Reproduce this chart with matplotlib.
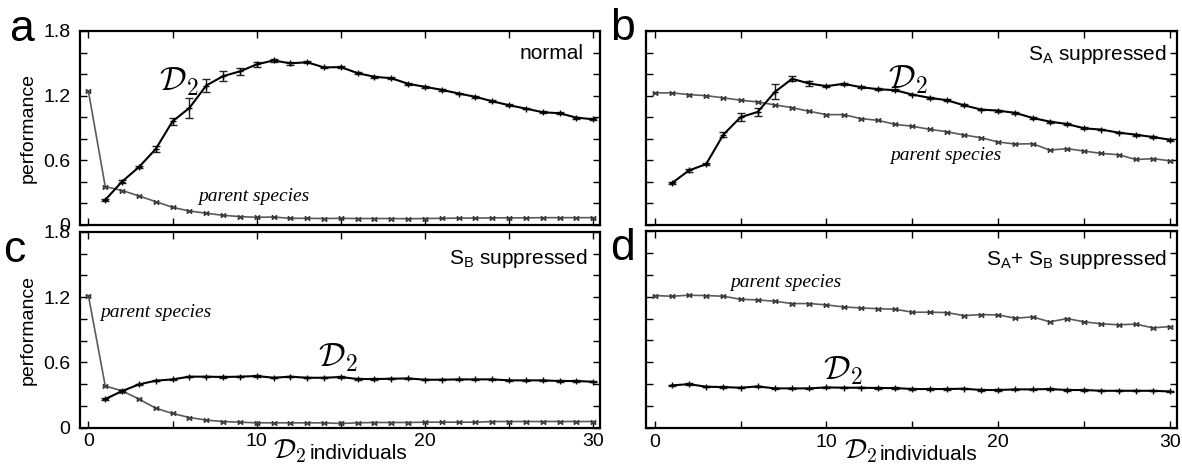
import matplotlib
matplotlib.use("Agg")
import matplotlib.pyplot as plt
from matplotlib.path import Path
from matplotlib.ticker import MultipleLocator, FixedLocator, NullFormatter

plt.rcParams['font.family'] = ['Liberation Sans', 'DejaVu Sans']
plt.rcParams['mathtext.fontset'] = 'custom'
plt.rcParams['mathtext.rm'] = 'Liberation Sans'
plt.rcParams['mathtext.it'] = 'Liberation Sans:italic'

# ---- data -------------------------------------------------------------
x_d2 = list(range(1, 31))
x_parent = list(range(0, 31))

# (a) normal
a_d2 = [0.233, 0.403, 0.537, 0.705, 0.962, 1.086, 1.294, 1.381, 1.425, 1.490,
        1.527, 1.500, 1.510, 1.462, 1.465, 1.409, 1.375, 1.362, 1.310, 1.282,
        1.254, 1.220, 1.189, 1.148, 1.111, 1.080, 1.046, 1.037, 0.996, 0.981]
a_d2_err = [0.008, 0.010, 0.010, 0.025, 0.035, 0.090, 0.060, 0.045, 0.030, 0.025,
            0.012, 0.012, 0.010, 0.008, 0.008, 0.008, 0.008, 0.008, 0.008, 0.008,
            0.008, 0.008, 0.008, 0.008, 0.008, 0.008, 0.008, 0.008, 0.008, 0.008]
a_parent = [1.241, 0.357, 0.320, 0.270, 0.217, 0.164, 0.130, 0.109, 0.090, 0.078,
            0.071, 0.074, 0.062, 0.062, 0.060, 0.062, 0.060, 0.060, 0.060, 0.058,
            0.060, 0.062, 0.064, 0.064, 0.066, 0.066, 0.066, 0.068, 0.068, 0.068,
            0.068]

# (b) S_A suppressed
b_d2 = [0.388, 0.506, 0.565, 0.838, 1.000, 1.049, 1.235, 1.356, 1.313, 1.288,
        1.310, 1.279, 1.260, 1.251, 1.210, 1.180, 1.158, 1.111, 1.071, 1.061,
        1.040, 0.993, 0.959, 0.937, 0.897, 0.885, 0.857, 0.838, 0.816, 0.791]
b_d2_err = [0.008, 0.010, 0.010, 0.025, 0.035, 0.035, 0.070, 0.022, 0.020, 0.012,
            0.010, 0.008, 0.008, 0.008, 0.008, 0.008, 0.008, 0.008, 0.008, 0.008,
            0.008, 0.008, 0.008, 0.008, 0.008, 0.008, 0.008, 0.008, 0.008, 0.008]
b_parent = [1.226, 1.226, 1.210, 1.200, 1.180, 1.158, 1.142, 1.114, 1.089, 1.055,
            1.024, 1.024, 0.987, 0.971, 0.934, 0.916, 0.888, 0.866, 0.835, 0.810,
            0.770, 0.751, 0.754, 0.695, 0.708, 0.686, 0.664, 0.652, 0.608, 0.615,
            0.596]

# (c) S_B suppressed
c_d2 = [0.262, 0.335, 0.397, 0.431, 0.443, 0.468, 0.468, 0.465, 0.468, 0.474,
        0.458, 0.468, 0.458, 0.458, 0.465, 0.446, 0.446, 0.449, 0.452, 0.440,
        0.440, 0.443, 0.443, 0.443, 0.434, 0.434, 0.434, 0.428, 0.428, 0.421]
c_d2_err = [0.006, 0.006, 0.006, 0.006, 0.006, 0.006, 0.006, 0.006, 0.006, 0.006,
            0.006, 0.006, 0.006, 0.006, 0.006, 0.006, 0.006, 0.006, 0.006, 0.006,
            0.006, 0.006, 0.006, 0.006, 0.006, 0.006, 0.006, 0.006, 0.006, 0.006]
c_parent = [1.215, 0.382, 0.338, 0.262, 0.178, 0.129, 0.092, 0.068, 0.055, 0.049,
            0.043, 0.043, 0.043, 0.043, 0.043, 0.037, 0.043, 0.046, 0.046, 0.046,
            0.049, 0.049, 0.049, 0.049, 0.055, 0.055, 0.055, 0.055, 0.055, 0.055,
            0.055]

# (d) S_A + S_B suppressed
d_d2 = [0.389, 0.401, 0.377, 0.374, 0.368, 0.380, 0.362, 0.362, 0.362, 0.371,
        0.368, 0.368, 0.365, 0.365, 0.356, 0.356, 0.356, 0.359, 0.347, 0.347,
        0.353, 0.353, 0.356, 0.347, 0.347, 0.340, 0.340, 0.340, 0.340, 0.334]
d_d2_err = [0.006, 0.006, 0.006, 0.006, 0.006, 0.006, 0.006, 0.006, 0.006, 0.006,
            0.006, 0.006, 0.006, 0.006, 0.006, 0.006, 0.006, 0.006, 0.006, 0.006,
            0.006, 0.006, 0.006, 0.006, 0.006, 0.006, 0.006, 0.006, 0.006, 0.006]
d_parent = [1.210, 1.204, 1.213, 1.210, 1.204, 1.176, 1.170, 1.158, 1.137, 1.137,
            1.125, 1.106, 1.097, 1.090, 1.085, 1.058, 1.058, 1.055, 1.027, 1.036,
            1.033, 1.003, 1.015, 0.970, 1.000, 0.970, 0.952, 0.943, 0.949, 0.915,
            0.927]

y_major = [0, 0.6, 1.2, 1.8]
y_major_labels = ['0', '0.6', '1.2', '1.8']
x_major = [0, 10, 20, 30]
x_major_labels = ['0', '10', '20', '30']

# ---- figure -----------------------------------------------------------
W, H = 1182, 472
fig = plt.figure(figsize=(W / 100, H / 100), dpi=100)


def add_axes_px(left, top, right, bottom):
    return fig.add_axes([left / W, 1 - bottom / H, (right - left) / W,
                         (bottom - top) / H])


# bow-tie marker for the parent-species curve
bowtie = Path([(-1, -1), (1, 1), (-1, 1), (1, -1),
               (-1, -1), (-1, 1), (1, -1), (1, 1)],
              [Path.MOVETO, Path.LINETO, Path.MOVETO, Path.LINETO,
               Path.MOVETO, Path.LINETO, Path.MOVETO, Path.LINETO])


def style_axes(ax, show_x, show_y):
    ax.set_xlim(-0.5, 30.4)
    ax.set_ylim(0, 1.8)
    ax.xaxis.set_major_locator(FixedLocator(x_major))
    ax.xaxis.set_minor_locator(FixedLocator([5, 15, 25]))
    ax.yaxis.set_major_locator(FixedLocator(y_major))
    ax.yaxis.set_minor_locator(MultipleLocator(0.2))
    ax.tick_params(which='both', direction='in', top=True, right=True,
                   length=5, width=1, labelsize=14)
    ax.tick_params(axis='x', pad=4)
    ax.tick_params(axis='y', pad=7)
    if show_x:
        ax.set_xticklabels(x_major_labels)
    else:
        ax.xaxis.set_major_formatter(NullFormatter())
    if show_y:
        ax.set_yticklabels(y_major_labels)
        ax.set_ylabel('performance', fontsize=14, labelpad=5)
    else:
        ax.yaxis.set_major_formatter(NullFormatter())
    for s in ax.spines.values():
        s.set_linewidth(1.6)


def draw(ax, d2, d2_err, parent):
    ax.plot(x_parent, parent, color='#5a5a5a', lw=1.2, marker=bowtie,
            markersize=3.2, markeredgewidth=0.9, markeredgecolor='#3a3a3a',
            zorder=2)
    ax.errorbar(x_d2, d2, yerr=d2_err, color='black', lw=1.5, marker='+',
                markersize=5, markeredgewidth=1.0, ecolor='#222222',
                elinewidth=1.0, capsize=3, capthick=1.0, zorder=3)


def d2_label(ax, x, y, size=24):
    ax.text(x, y, r'$\mathcal{D}_2$', fontsize=size, math_fontfamily='cm',
            ha='left', va='center')


def parent_label(ax, x, y):
    ax.text(x, y, 'parent species', fontsize=14, family='Liberation Serif',
            style='italic', ha='left', va='center')


def xlabel(ax):
    # calligraphic symbol set just after the "10" tick label, then the word
    sym = ax.text(0.372, -0.155, r'$\mathcal{D}_2$', fontsize=20,
                  math_fontfamily='cm', transform=ax.transAxes, ha='left',
                  va='baseline')
    ax.annotate('individuals', xy=(1.0, 0.0), xycoords=sym,
                xytext=(2, 4), textcoords='offset points', fontsize=15,
                ha='left', va='baseline')


ax_a = add_axes_px(80, 31, 600, 225)
ax_b = add_axes_px(646, 31, 1177, 225)
ax_c = add_axes_px(80, 232, 600, 427.5)
ax_d = add_axes_px(646, 231, 1177, 428)

style_axes(ax_a, False, True)
style_axes(ax_b, False, False)
style_axes(ax_c, True, True)
style_axes(ax_d, True, False)

draw(ax_a, a_d2, a_d2_err, a_parent)
draw(ax_b, b_d2, b_d2_err, b_parent)
draw(ax_c, c_d2, c_d2_err, c_parent)
draw(ax_d, d_d2, d_d2_err, d_parent)

d2_label(ax_a, 4.2, 1.33)
parent_label(ax_a, 6.5, 0.265)
ax_a.text(0.969, 0.883, 'normal', fontsize=15, transform=ax_a.transAxes,
          ha='right', va='center')

d2_label(ax_b, 13.6, 1.35)
parent_label(ax_b, 13.7, 0.645)
ax_b.text(0.981, 0.88, r'S$_{\mathrm{A}}$ suppressed', fontsize=15,
          transform=ax_b.transAxes, ha='right', va='center')

d2_label(ax_c, 13.65, 0.645)
parent_label(ax_c, 0.7, 1.06)
ax_c.text(0.977, 0.867, r'S$_{\mathrm{B}}$ suppressed', fontsize=15,
          transform=ax_c.transAxes, ha='right', va='center')
xlabel(ax_c)

d2_label(ax_d, 9.8, 0.52)
parent_label(ax_d, 4.4, 1.33)
ax_d.text(0.981, 0.853, r'S$_{\mathrm{A}}$+ S$_{\mathrm{B}}$ suppressed',
          fontsize=15, transform=ax_d.transAxes, ha='right', va='center')
xlabel(ax_d)

# panel letters
for lx, ly, letter in [(9, 41, 'a'), (610, 40, 'b'), (3, 262, 'c'),
                       (610, 260, 'd')]:
    fig.text(lx / W, 1 - ly / H, letter, fontsize=32, ha='left',
             va='baseline')

fig.savefig('out.png', dpi=100)
